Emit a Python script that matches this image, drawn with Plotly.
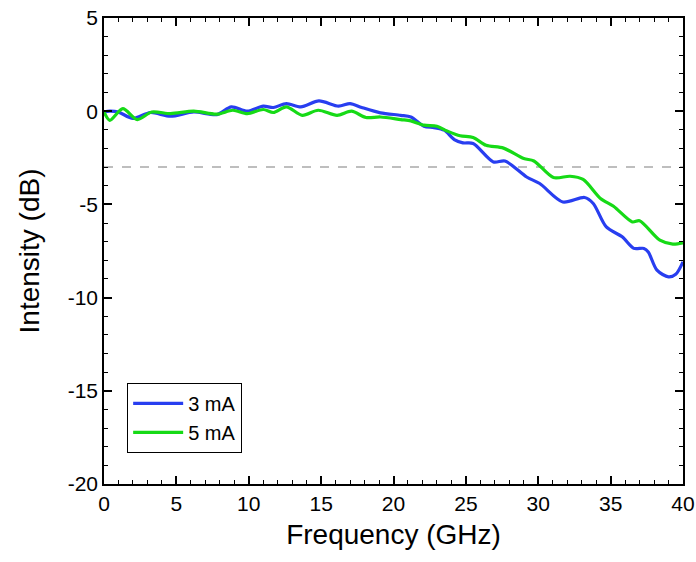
import plotly.graph_objects as go

freq_3mA = [0, 0.4, 1.0, 2.0, 3.2, 4.6, 6.2, 7.8, 8.8, 9.9, 11.0, 11.7, 12.6, 13.6, 14.85,
            16.2, 17.0, 17.8, 19.1, 20.5, 21.2, 22.1, 22.8, 23.5, 24.2, 24.8, 25.5, 26.9,
            27.7, 29.2, 30.1, 31.7, 33.2, 33.8, 34.7, 35.8, 36.6, 37.3, 37.6, 38.2, 39.0, 39.5, 40.0]
db_3mA = [-0.04, 0.0, -0.05, -0.39, -0.07, -0.27, -0.04, -0.18, 0.23, 0.0, 0.27, 0.20, 0.41, 0.23, 0.55,
          0.27, 0.41, 0.20, -0.09, -0.22, -0.31, -0.81, -0.88, -1.02, -1.52, -1.70, -1.73, -2.72,
          -2.67, -3.53, -3.88, -4.87, -4.63, -4.95, -6.21, -6.74, -7.36, -7.36, -7.55, -8.53, -8.89, -8.75, -8.08]

freq_5mA = [0, 0.4, 1.3, 2.3, 3.3, 4.6, 6.2, 7.8, 8.9, 9.9, 11.0, 11.7, 12.6, 13.7, 14.8,
            16.1, 17.1, 18.1, 19.1, 20.5, 21.2, 22.1, 23.0, 23.7, 24.6, 25.5, 26.4, 27.6,
            29.0, 29.7, 31.05, 32.2, 33.1, 34.3, 35.2, 36.5, 37.0, 38.4, 39.3, 40.0]
db_5mA = [-0.04, -0.49, 0.14, -0.45, -0.04, -0.13, 0.0, -0.16, 0.05, -0.13, 0.09, -0.07, 0.23, -0.22, 0.05,
          -0.22, 0.0, -0.34, -0.31, -0.45, -0.52, -0.75, -0.81, -1.06, -1.32, -1.41, -1.83, -1.98,
          -2.54, -2.67, -3.56, -3.49, -3.66, -4.68, -5.10, -5.94, -5.88, -6.92, -7.13, -7.06]

threshold_db = -3
x_ticks = [0, 5, 10, 15, 20, 25, 30, 35, 40]
x_ticktext = ["0", "5", "10", "15", "20", "25", "30", "35", "40"]
y_ticks = [5, 0, -5, -10, -15, -20]
y_ticktext = ["5", "0", "-5", "-10", "-15", "-20"]

fig = go.Figure()
fig.add_trace(go.Scatter(x=freq_3mA, y=db_3mA, mode="lines", name="3 mA",
                         line=dict(color="rgb(40,62,240)", width=3.2, shape="spline", smoothing=0.8)))
fig.add_trace(go.Scatter(x=freq_5mA, y=db_5mA, mode="lines", name="5 mA",
                         line=dict(color="rgb(22,218,22)", width=3.2, shape="spline", smoothing=0.8)))

fig.add_shape(type="line", xref="paper", yref="y", x0=0, x1=1, y0=threshold_db, y1=threshold_db,
              line=dict(color="rgb(190,190,190)", width=2, dash="dash"), layer="below")

font_family = "Liberation Sans, Arial, sans-serif"
axis_common = dict(showline=True, linecolor="black", linewidth=1.5, mirror="allticks",
                   ticks="inside", ticklen=8, tickwidth=1.5, tickcolor="black",
                   showgrid=False, zeroline=False, automargin=False,
                   tickfont=dict(family=font_family, size=21, color="black"))

fig.update_xaxes(range=[0, 40], tickvals=x_ticks, ticktext=x_ticktext,
                 minor=dict(ticks="inside", dtick=1, ticklen=4, tickwidth=1.2, tickcolor="black"),
                 title=dict(text="Frequency (GHz)", font=dict(family=font_family, size=28, color="black"), standoff=10),
                 **axis_common)
fig.update_yaxes(range=[-20, 5], tickvals=y_ticks, ticktext=y_ticktext,
                 minor=dict(ticks="inside", dtick=1, ticklen=4, tickwidth=1.2, tickcolor="black"),
                 title=dict(text="Intensity (dB)", font=dict(family=font_family, size=28, color="black"), standoff=20),
                 **axis_common)

fig.update_layout(
    width=696, height=562,
    margin=dict(l=104, r=13, t=18, b=78),
    plot_bgcolor="white", paper_bgcolor="white",
    font=dict(family=font_family, color="black"),
    legend=dict(x=0.04, y=0.217, xanchor="left", yanchor="top",
                bordercolor="black", borderwidth=1, bgcolor="white",
                font=dict(family=font_family, size=20, color="black"),
                tracegroupgap=0, itemwidth=50),
    showlegend=True,
)

fig.write_html("out.html", config={"displayModeBar": False},
               post_script="document.body.style.margin='0px';document.body.style.overflow='hidden';")
